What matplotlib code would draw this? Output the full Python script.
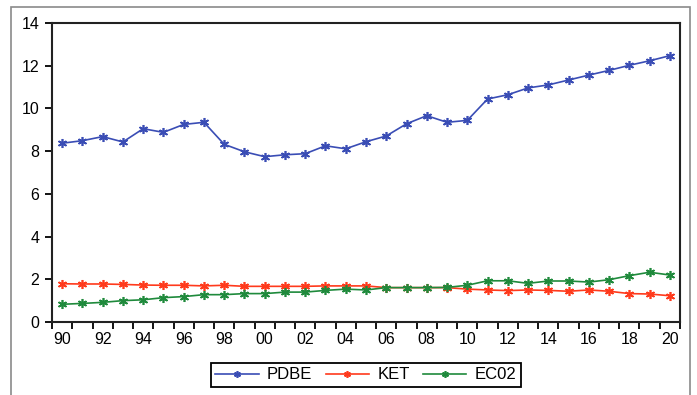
import matplotlib
matplotlib.use("Agg")
import matplotlib.pyplot as plt
from matplotlib.patches import Rectangle
from matplotlib.ticker import FixedLocator

plt.rcParams['font.family'] = ['Liberation Sans', 'DejaVu Sans']

years = list(range(1990, 2021))

pdbe = [8.37, 8.49, 8.68, 8.43, 9.05, 8.88, 9.25, 9.35, 8.32, 7.97,
        7.74, 7.83, 7.88, 8.25, 8.11, 8.44, 8.71, 9.28, 9.66, 9.35,
        9.44, 10.44, 10.64, 10.96, 11.10, 11.33, 11.56, 11.78, 12.02, 12.23,
        12.47]
ket = [1.79, 1.78, 1.78, 1.76, 1.73, 1.72, 1.72, 1.69, 1.72, 1.67,
       1.67, 1.67, 1.67, 1.69, 1.69, 1.69, 1.61, 1.61, 1.61, 1.61,
       1.54, 1.50, 1.47, 1.50, 1.48, 1.44, 1.50, 1.44, 1.33, 1.31,
       1.23]
ec02 = [0.83, 0.87, 0.92, 1.00, 1.04, 1.14, 1.19, 1.28, 1.28, 1.33,
        1.33, 1.40, 1.40, 1.48, 1.54, 1.50, 1.61, 1.61, 1.61, 1.62,
        1.72, 1.93, 1.93, 1.81, 1.92, 1.92, 1.87, 1.98, 2.17, 2.33,
        2.20]

series = [("PDBE", pdbe, "#3a4db5"), ("KET", ket, "#ff3a1c"), ("EC02", ec02, "#1f8a3c")]

fig = plt.figure(figsize=(6.97, 3.95), dpi=100)
ax = fig.add_axes([0.0746, 0.1848, 0.9756 - 0.0746, 0.9418 - 0.1848])

x = list(range(len(years)))
for name, vals, col in series:
    ax.plot(x, vals, color=col, lw=1.2, marker=(6, 2, 0), ms=6.5, mew=1.2, label=name)

ax.set_xlim(-0.5, len(years) - 0.5)
ax.set_ylim(0, 14)
ax.set_yticks(range(0, 15, 2))

# labels every 2 years at point centres, tick marks at year boundaries
lab_pos = x[::2]
ax.set_xticks(lab_pos)
ax.set_xticklabels([str(y)[2:] for y in years[::2]])
ax.xaxis.set_minor_locator(FixedLocator([i - 0.5 for i in range(len(years) + 1)]))
ax.tick_params(axis='x', which='major', length=0, pad=7, labelsize=11.5)
ax.tick_params(axis='x', which='minor', length=5, width=1.3, direction='out')
ax.tick_params(axis='y', length=5, width=1.3, direction='out', labelsize=11.5, pad=4)

for s in ax.spines.values():
    s.set_linewidth(1.5)
    s.set_color('#222222')

leg = fig.legend(loc='center', bbox_to_anchor=(0.525, 0.051), ncol=3, frameon=True,
                 fancybox=False, edgecolor='black', framealpha=1, fontsize=12,
                 handlelength=2.6, columnspacing=0.8, handletextpad=0.5,
                 borderpad=0.25, markerscale=0.75)
leg.get_frame().set_linewidth(1.3)

fig.patches.append(Rectangle((11 / 697, -0.05), (690 - 11) / 697, (395 - 7) / 395 + 0.05,
                             transform=fig.transFigure, fill=False,
                             edgecolor='#8a8a8a', lw=1.2))

fig.savefig("out.png", dpi=100)
